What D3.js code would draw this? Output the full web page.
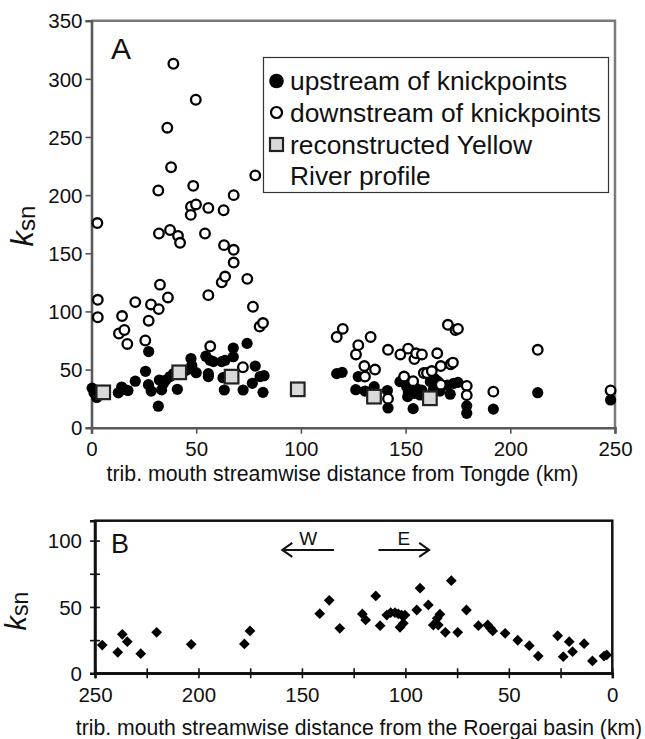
<!DOCTYPE html>
<html>
<head>
<meta charset="utf-8">
<script src="https://cdn.jsdelivr.net/npm/d3@7"></script>
<style>
  html, body { margin: 0; padding: 0; background: #fff; }
  svg { display: block; font-family: "Liberation Sans", Arial, Helvetica, sans-serif; }
</style>
</head>
<body>
<svg id="chart" width="645" height="739"></svg>
<script>
// ---------- DATA ----------
// Panel A: [distance from Tongde (km), ksn]
const upstream = [
  [0.3,34],[1.2,30],[2.5,26],[12.8,30],[14.4,35],[15.7,33],[17.4,32],[20.9,40],[25.8,48.5],[27.3,65.5],
  [27.2,37],[28.5,31.5],[31.9,18.5],[32.4,41],[33.5,32.5],[34.3,38],[35.5,41],[37.5,44],[39.1,46.5],[41,33],
  [45.5,49.5],[47.5,59.5],[47.9,53.5],[50,47.3],[54.6,61.5],[55.8,46.5],[55.8,44],[56.6,58],[58.2,56.8],[62.2,56.8],
  [63.8,58],[62.8,43],[63.4,32.4],[67.7,68.5],[67.7,61],[72.4,32.4],[74.3,72.5],[78.2,53],[76.8,38.2],[80.5,44],
  [82.4,44.7],[81.9,30.4],
  [117.1,46.5],[119.7,47.6],[127.4,44],[126.2,32.7],[130.6,31.5],[135,35.3],[141.3,32],[141.6,17],[147.3,39.6],
  [150.5,35.3],[151.3,31],[151,26.7],[154.2,29.6],[155.3,33.5],[156.9,28.1],[153.6,16.4],[157.7,32.4],[161.8,39.6],
  [164,42],[165.6,39.6],[163.2,32.4],[166.4,31.5],[171.3,28.8],[170,36.7],[173,38.2],[175,39],[179.2,18.8],
  [179.2,12.4],[191.9,16],[213.1,30.1],[247.9,23.8]
];
const downstream = [
  [2.8,176],[3,110],[3,95],[13.1,81],[14.6,96],[15.7,84],[17.1,72],[20.9,108],[25.7,75],[27.3,92],
  [28.4,106],[32.1,102],[32.7,123],[36.5,112],[31.9,204],[32.2,167],[37.5,170],[41.3,165],[42.3,159],[36.2,258],
  [38,224],[39.1,313],[49.8,282],[48.6,208],[47.5,190],[49.9,192],[47.4,183],[55.8,189],[54.2,167],[55.8,114],
  [56.7,70],[62.2,125],[63.8,130],[63.3,157],[63.1,187],[67.9,200],[67.9,153],[67.9,142],[72.3,52],[74.4,128],
  [77.1,104],[78.2,217],[80.3,87],[81.9,90],
  [117.1,78],[120,85],[126.3,63],[127.4,71],[133.3,78],[130.3,53],[130.6,44],[135.4,50],[141.6,67],[141.6,25],
  [147.5,63],[149.3,44],[151.2,68],[153.6,40],[154.2,59],[155,64],[157.8,63],[158.7,47],[160.2,47],[162.5,48.7],
  [165.1,64],[166.8,53],[166.8,37],[170.2,88.5],[173.8,84],[175,85],[171.5,54.5],[172.6,56],[179.2,36],[179.2,28],
  [191.9,31],[213.1,67],[247.9,32]
];
const reconstructed = [[5.6,30.4],[41.9,47.6],[66.9,43.9],[98.5,33],[134.9,26.7],[161.6,25.3]];

// Panel B: [distance from the Roergai basin (km), ksn]
const roergai = [
  [246.5,21.3],[239,15.8],[236.8,29.4],[234.4,23.8],[227.9,14.8],[220.2,30.9],[203.5,21.8],[177.8,22.1],[175.1,31.9],
  [141.4,44.9],[136.8,55],[131.7,33.9],[120.8,44.7],[119.2,40.2],[114.3,58.3],[112.2,35.9],[109,43.9],[107.1,45.7],
  [105,45.7],[103.4,44.7],[101.8,43.9],[100.2,43.9],[102.6,34.7],[101,37.7],[94.5,47.7],[92.9,64.1],[88.9,51.5],
  [86.5,36.4],[84.1,36.4],[83.3,44.5],[84.6,41.4],[80.7,30.9],[77.8,69.8],[74.7,30.9],[70.5,47.7],[64.7,35.9],
  [60.2,36.4],[58.8,33.9],[57.8,31.9],[51.8,30.1],[45.7,24.9],[40.1,20.8],[35.8,13],[26.4,28.3],[23.7,12.5],
  [20.8,23.8],[19.2,16.3],[13.6,22.3],[9.6,9.3],[4,13],[2.7,13.8]
];

// Ticks & labels
const ticksAx = [0, 50, 100, 150, 200, 250];
const ticksAy = [0, 50, 100, 150, 200, 250, 300, 350];
const ticksBx = [250, 225, 200, 175, 150, 125, 100, 75, 50, 25, 0];
const ticksBy = [0, 25, 50, 75, 100];
const legendLabels = ["upstream of knickpoints", "downstream of knickpoints", "reconstructed Yellow", "River profile"];
const xLabelA = "trib. mouth streamwise distance from Tongde (km)";
const xLabelB = "trib. mouth streamwise distance from the Roergai basin (km)";
// direction arrows in panel B: [label, from km, to km, at ksn]
const arrowsB = [["W", 134.5, 159.5, 93], ["E", 113, 88.5, 93]];

// ---------- CHART ----------
const svg = d3.select("#chart");
const FONT = '"Liberation Sans", Arial, Helvetica, sans-serif';

// Panel A scales
const xA = d3.scaleLinear().domain([0, 250]).range([91.5, 615]);
const yA = d3.scaleLinear().domain([0, 350]).range([427.7, 20.7]);

const gA = svg.append("g");
gA.append("path")
  .attr("d", `M${xA(0)},${yA(350)} H${xA(250)} V${yA(0)}`)
  .attr("fill", "none").attr("stroke", "#7a7a7a").attr("stroke-width", 2.5);

const axAx = gA.append("g").attr("transform", `translate(0,${yA(0)})`)
  .call(d3.axisBottom(xA).tickValues(ticksAx).tickSize(6).tickPadding(8).tickFormat(d3.format("d")));
const axAy = gA.append("g").attr("transform", `translate(${xA(0)},0)`)
  .call(d3.axisLeft(yA).tickValues(ticksAy).tickSize(6).tickPadding(3).tickFormat(d3.format("d")));
[axAx, axAy].forEach(a => {
  a.select(".domain").attr("stroke", "#5a5a5a").attr("stroke-width", 2.6);
  a.selectAll(".tick line").attr("stroke", "#555").attr("stroke-width", 1.6);
  a.selectAll(".tick text").attr("fill", "#111").style("font-size", "20.5px").style("font-family", FONT);
});
axAx.selectAll(".tick text").attr("dy", "0.71em");
axAy.selectAll(".tick text").attr("dy", "0.35em");

// marks A
gA.append("g").selectAll("circle").data(upstream).join("circle")
  .attr("cx", d => xA(d[0])).attr("cy", d => yA(d[1])).attr("r", 5.6).attr("fill", "#000");
gA.append("g").selectAll("circle").data(downstream).join("circle")
  .attr("cx", d => xA(d[0])).attr("cy", d => yA(d[1])).attr("r", 4.8)
  .attr("fill", "#fff").attr("stroke", "#000").attr("stroke-width", 2.3);
gA.append("g").selectAll("rect").data(reconstructed).join("rect")
  .attr("x", d => xA(d[0]) - 6.8).attr("y", d => yA(d[1]) - 6.8).attr("width", 13.6).attr("height", 13.6)
  .attr("fill", "#d9d9d9").attr("stroke", "#222").attr("stroke-width", 2.2);

gA.append("text").attr("x", 111).attr("y", 58.5).text("A")
  .style("font-size", "30px").attr("fill", "#111");

// legend
const lg = gA.append("g");
lg.append("rect").attr("x", 263.5).attr("y", 57.5).attr("width", 345).attr("height", 135)
  .attr("fill", "#fff").attr("stroke", "#333").attr("stroke-width", 1.2);
const lgY = [81, 112.5, 144.5, 176];
lg.append("circle").attr("cx", 276.5).attr("cy", lgY[0]).attr("r", 7.3).attr("fill", "#000");
lg.append("circle").attr("cx", 276.5).attr("cy", lgY[1]).attr("r", 5.5)
  .attr("fill", "#fff").attr("stroke", "#000").attr("stroke-width", 2.2);
lg.append("rect").attr("x", 270).attr("y", lgY[2] - 6.5).attr("width", 13).attr("height", 13)
  .attr("fill", "#d9d9d9").attr("stroke", "#222").attr("stroke-width", 2.2);
legendLabels.forEach((t, i) => {
  lg.append("text").attr("x", 290).attr("y", lgY[i]).attr("dy", "0.35em").text(t)
    .style("font-size", "26.4px").attr("fill", "#111");
});

// axis titles A
gA.append("text").attr("x", 342.5).attr("y", 481).attr("text-anchor", "middle")
  .text(xLabelA).style("font-size", "21.3px").attr("fill", "#111");
const ylA = gA.append("text").attr("transform", `translate(33,226) rotate(-90)`).attr("text-anchor", "middle").attr("fill", "#111");
ylA.append("tspan").text("k").style("font-style", "italic").style("font-size", "31px");
ylA.append("tspan").text("sn").style("font-size", "24px").attr("dy", 2);

// Panel B scales
const xB = d3.scaleLinear().domain([250, 0]).range([95, 612.3]);
const yB = d3.scaleLinear().domain([0, 115]).range([673.3, 673.3 - 115 * 1.327]);

const gB = svg.append("g");
gB.append("rect").attr("x", xB(250)).attr("y", yB(115)).attr("width", xB(0) - xB(250)).attr("height", yB(0) - yB(115))
  .attr("fill", "none").attr("stroke", "#111").attr("stroke-width", 2.5);

const axBx = gB.append("g").attr("transform", `translate(0,${yB(0)})`)
  .call(d3.axisBottom(xB).tickValues(ticksBx).tickSize(5).tickPadding(9).tickFormat(d => d % 50 === 0 ? d : ""));
const axBy = gB.append("g").attr("transform", `translate(${xB(250)},0)`)
  .call(d3.axisLeft(yB).tickValues(ticksBy).tickSize(5).tickPadding(8).tickFormat(d => d % 50 === 0 ? d : ""));
[axBx, axBy].forEach(a => {
  a.select(".domain").attr("stroke", "#111").attr("stroke-width", 2.5);
  a.selectAll(".tick line").attr("stroke", "#111").attr("stroke-width", 1.6);
  a.selectAll(".tick text").attr("fill", "#111").style("font-size", "20.5px").style("font-family", FONT);
});
axBx.selectAll(".tick line").attr("y1", -5).attr("y2", 5);
axBy.selectAll(".tick line").attr("x1", 5).attr("x2", -5);
axBx.selectAll(".tick text").attr("dy", "0.71em");
axBy.selectAll(".tick text").attr("dy", "0.35em");

const diamond = d3.symbol().type(d3.symbolSquare).size(58);
gB.append("g").selectAll("path").data(roergai).join("path")
  .attr("d", diamond)
  .attr("transform", d => `translate(${xB(d[0])},${yB(d[1])}) rotate(45)`)
  .attr("fill", "#000");

arrowsB.forEach(([lab, from, to, k]) => {
  const x1 = xB(from), x2 = xB(to), y = yB(k);
  const dir = Math.sign(x2 - x1);
  gB.append("path")
    .attr("d", `M${x1},${y} H${x2} M${x2 - dir * 10},${y - 7} L${x2},${y} L${x2 - dir * 10},${y + 7}`)
    .attr("fill", "none").attr("stroke", "#111").attr("stroke-width", 2);
  gB.append("text").attr("x", (x1 + x2) / 2).attr("y", y - 5).attr("text-anchor", "middle")
    .text(lab).style("font-size", "19px").attr("fill", "#111");
});

gB.append("text").attr("x", 111).attr("y", 553).text("B").style("font-size", "27px").attr("fill", "#111");

gB.append("text").attr("x", 359).attr("y", 735).attr("text-anchor", "middle")
  .text(xLabelB).style("font-size", "21.2px").attr("fill", "#111");
const ylB = gB.append("text").attr("transform", `translate(26,611) rotate(-90)`).attr("text-anchor", "middle").attr("fill", "#111");
ylB.append("tspan").text("k").style("font-style", "italic").style("font-size", "29px");
ylB.append("tspan").text("sn").style("font-size", "23px").attr("dy", 2);
</script>
</body>
</html>
